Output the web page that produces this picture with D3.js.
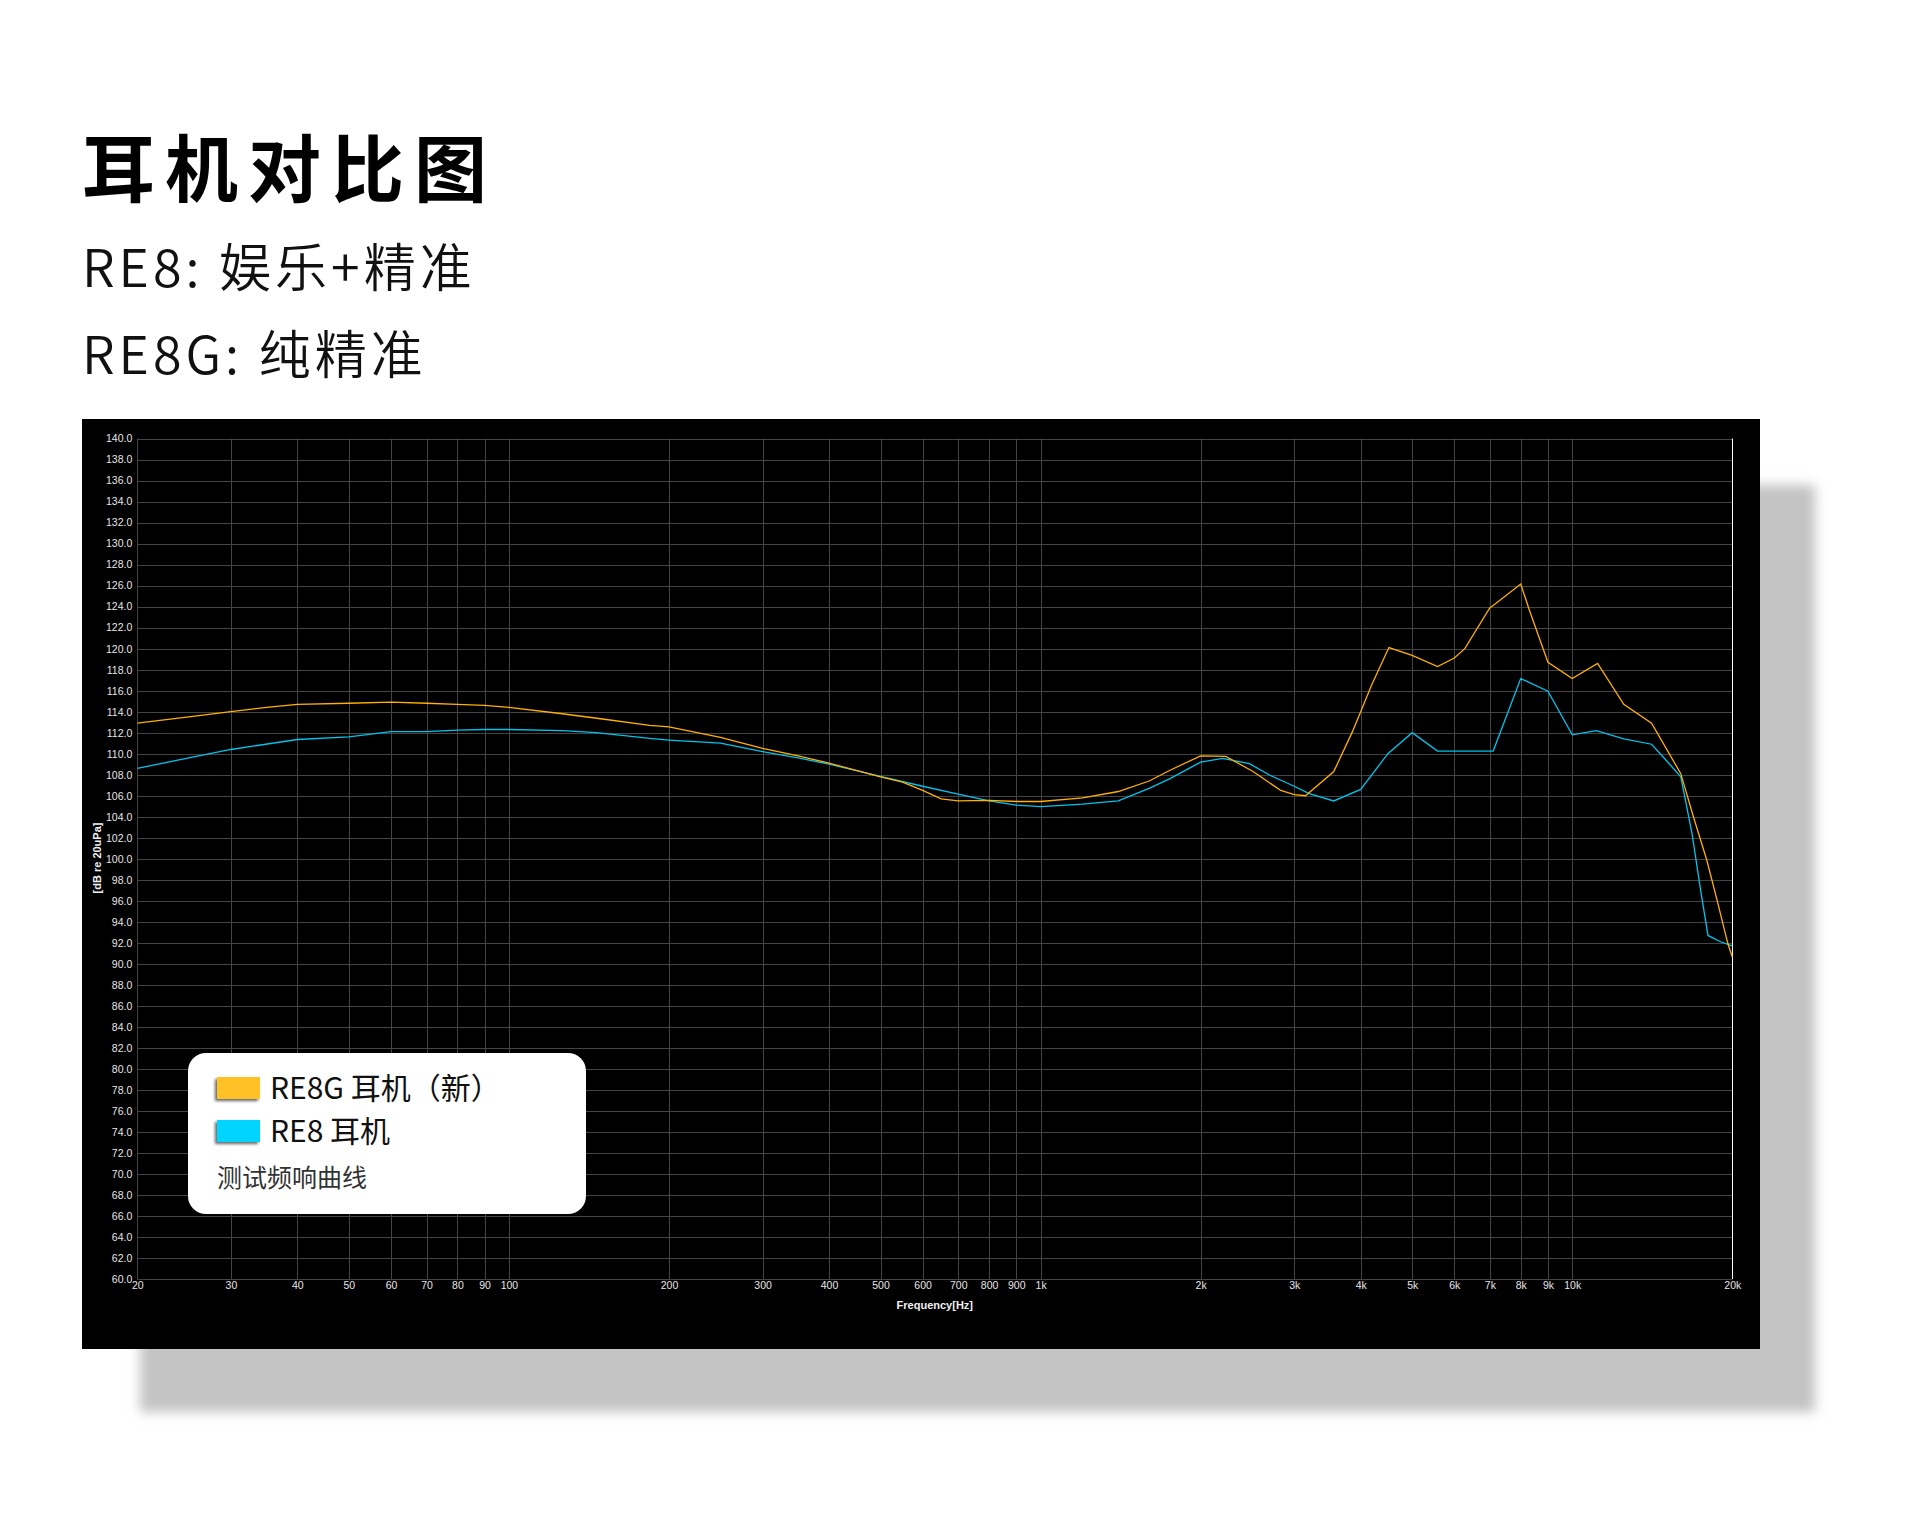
<!DOCTYPE html>
<html><head><meta charset="utf-8">
<script src="https://cdn.jsdelivr.net/npm/d3@7"></script>
<style>
html,body{margin:0;padding:0;background:#fff;}
svg{display:block;}
</style></head>
<body>
<svg id="chart" width="1920" height="1529"></svg>
<script>
// ---- data ----
const re8gFreq = [20,25,30,35,40,50,60,70,80,90,100,126,150,184,200,250,300,350,400,500,550,600,650,700,800,900,1000,1200,1400,1600,1748,2000,2230,2510,2830,3000,3150,3560,3860,4000,4190,4520,5000,5580,6000,6280,7000,7100,8000,8300,9000,10000,11160,12500,14100,16000,16900,17900,18800,19600,20000];
const re8gSpl  = [112.9,113.5,114.0,114.4,114.7,114.8,114.9,114.8,114.7,114.6,114.4,113.8,113.3,112.7,112.55,111.55,110.5,109.8,109.1,107.8,107.3,106.5,105.7,105.5,105.55,105.45,105.45,105.8,106.4,107.4,108.4,109.8,109.75,108.3,106.5,106.1,106.0,108.3,112.1,114.0,116.5,120.1,119.35,118.3,119.1,120.0,123.9,124.1,126.15,123.7,118.7,117.15,118.6,114.7,112.9,108.1,104.0,99.9,95.7,92.0,90.65];
const re8Freq  = [20,25,30,40,50,60,70,80,90,100,126,146,184,200,250,300,350,400,500,600,700,800,900,1000,1200,1400,1600,1748,2000,2200,2470,2700,3000,3200,3560,4000,4500,5000,5580,7100,8000,9000,10000,11100,12500,14100,15000,16000,16800,17400,18000,19000,20000];
const re8Spl   = [108.6,109.6,110.4,111.35,111.6,112.1,112.1,112.25,112.3,112.3,112.2,112.0,111.45,111.3,111.0,110.2,109.6,109.0,107.85,106.9,106.15,105.5,105.1,104.97,105.2,105.5,106.7,107.6,109.2,109.55,109.05,107.95,106.9,106.2,105.5,106.6,110.0,112.0,110.25,110.25,117.15,115.95,111.8,112.2,111.4,110.9,109.4,107.8,102.4,97.3,92.7,92.1,91.7];
const xTicks = [20,30,40,50,60,70,80,90,100,200,300,400,500,600,700,800,900,1000,2000,3000,4000,5000,6000,7000,8000,9000,10000,20000];
const xTickLabels = ["20","30","40","50","60","70","80","90","100","200","300","400","500","600","700","800","900","1k","2k","3k","4k","5k","6k","7k","8k","9k","10k","20k"];
const yTicks = d3.range(60, 140.001, 2);
const titleText = "耳机对比图";
const subLines = ["RE8: 娱乐+精准", "RE8G: 纯精准"];
const legendItems = ["RE8G 耳机（新）", "RE8 耳机"];
const legendNote = "测试频响曲线";
const xTitle = "Frequency[Hz]";
const yTitle = "[dB re 20uPa]";

// ---- layout ----
const svg = d3.select("#chart");
const CJK = "'Noto Sans CJK SC','Noto Sans',sans-serif";
const TICKF = "'Liberation Sans',Arial,sans-serif";
const box = {x:82, y:419, w:1678, h:930};
const plot = {l:137.3, r:1732.3, t:438.5, b:1279};

const defs = svg.append("defs");
const f1 = defs.append("filter").attr("id","blur").attr("x","-5%").attr("y","-5%").attr("width","110%").attr("height","110%");
f1.append("feGaussianBlur").attr("stdDeviation",6);
const f2 = defs.append("filter").attr("id","swsh").attr("x","-30%").attr("y","-30%").attr("width","160%").attr("height","180%");
f2.append("feDropShadow").attr("dx",-2).attr("dy",2).attr("stdDeviation",1.5).attr("flood-color","#000").attr("flood-opacity",0.6);

// titles
svg.append("text").attr("x",82).attr("y",196).attr("font-family",CJK).attr("font-weight",700)
  .attr("font-size",73).attr("letter-spacing",10).attr("fill","#000").text(titleText);
svg.selectAll("text.sub").data(subLines).enter().append("text").attr("class","sub")
  .attr("x",82).attr("y",(d,i)=>287+i*87).attr("font-family",CJK).attr("font-weight",350)
  .attr("font-size",52).attr("letter-spacing",4).attr("fill","#111").text(d=>d);

// shadow + chart background
svg.append("rect").attr("x",box.x+58).attr("y",box.y+66).attr("width",box.w-3).attr("height",box.h-3)
  .attr("fill","#c3c3c3").attr("filter","url(#blur)");
svg.append("rect").attr("x",box.x).attr("y",box.y).attr("width",box.w).attr("height",box.h).attr("fill","#000");

const x = d3.scaleLog().domain([20,20000]).range([plot.l, plot.r]);
const y = d3.scaleLinear().domain([60,140]).range([plot.b, plot.t]);

// grid
const g = svg.append("g");
g.selectAll("line.h").data(yTicks).enter().append("line")
  .attr("x1",plot.l).attr("x2",plot.r).attr("y1",d=>Math.round(y(d))+0.5).attr("y2",d=>Math.round(y(d))+0.5)
  .attr("stroke","#444").attr("stroke-width",1);
g.selectAll("line.v").data(xTicks).enter().append("line")
  .attr("y1",plot.t).attr("y2",plot.b).attr("x1",d=>Math.round(x(d))+0.5).attr("x2",d=>Math.round(x(d))+0.5)
  .attr("stroke",d=>d===20000?"#fff":"#444").attr("stroke-width",1);

// axes labels
const yAxis = d3.axisLeft(y).tickValues(yTicks).tickFormat(d3.format(".1f")).tickSize(0).tickPadding(5);
const ya = svg.append("g").attr("transform",`translate(${plot.l},0)`).call(yAxis);
ya.select(".domain").remove();
ya.selectAll("text").attr("fill","#e6e6e6").attr("font-family",TICKF).attr("font-size",10.5);

const xAxis = d3.axisBottom(x).tickValues(xTicks).tickFormat((d,i)=>xTickLabels[i]).tickSize(0).tickPadding(3);
const xa = svg.append("g").attr("transform",`translate(0,${plot.b})`).call(xAxis);
xa.select(".domain").remove();
xa.selectAll("text").attr("fill","#e6e6e6").attr("font-family",TICKF).attr("font-size",10.5);

svg.append("text").attr("x",(plot.l+plot.r)/2).attr("y",1309).attr("text-anchor","middle")
  .attr("font-family",TICKF).attr("font-weight",700).attr("font-size",11).attr("fill","#f0f0f0").text(xTitle);
svg.append("text").attr("transform",`translate(101,858) rotate(-90)`).attr("text-anchor","middle")
  .attr("font-family",TICKF).attr("font-weight",700).attr("font-size",11).attr("fill","#f0f0f0").text(yTitle);

// curves
const line = d3.line().x(d=>x(d[0])).y(d=>y(d[1]));
svg.append("path").datum(re8Freq.map((f,i)=>[f,re8Spl[i]])).attr("d",line)
  .attr("fill","none").attr("stroke","#00c4ec").attr("stroke-width",1.3);
svg.append("path").datum(re8gFreq.map((f,i)=>[f,re8gSpl[i]])).attr("d",line)
  .attr("fill","none").attr("stroke","#ffb000").attr("stroke-width",1.3);

// legend
const lg = svg.append("g");
lg.append("rect").attr("x",188).attr("y",1053).attr("width",398).attr("height",161).attr("rx",18).attr("fill","#fff");
const swCol = ["#ffc125","#00d4ff"];
legendItems.forEach((t,i)=>{
  lg.append("rect").attr("x",217).attr("y",1077+i*43).attr("width",43).attr("height",22)
    .attr("fill",swCol[i]).attr("filter","url(#swsh)");
  lg.append("text").attr("x",270).attr("y",1099+i*43).attr("font-family",CJK).attr("font-size",30)
    .attr("fill","#111").text(t);
});
lg.append("text").attr("x",217).attr("y",1187).attr("font-family",CJK).attr("font-size",25)
  .attr("fill","#333").text(legendNote);
</script>
</body></html>
